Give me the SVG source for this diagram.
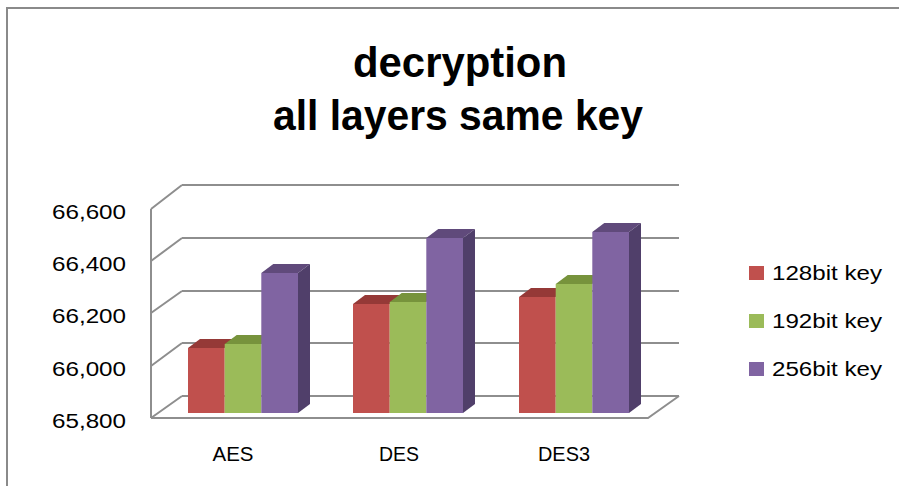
<svg xmlns="http://www.w3.org/2000/svg" width="899" height="486" viewBox="0 0 899 486">
  <style>
    .frame { fill: none; stroke: #8a8a8a; stroke-width: 2; }
    .grid { fill: none; stroke: #8e8e8e; stroke-width: 2; }
    .title { font-family: "Liberation Sans", Arial, sans-serif; font-weight: bold; font-size: 43px; fill: #000; text-anchor: middle; }
    .lbl { font-family: "Liberation Sans", Arial, sans-serif; font-size: 20px; fill: #000; }
    .ax { text-anchor: end; }
    .cat { text-anchor: middle; }
    .r-f { fill: #C0504D; } .r-t { fill: #953937; } .r-s { fill: #8A3533; }
    .g-f { fill: #9BBB59; } .g-t { fill: #77933C; } .g-s { fill: #6E8838; }
    .p-f { fill: #8064A2; } .p-t { fill: #604A7B; } .p-s { fill: #503F6A; }
  </style>

  <!-- chart frame (top and left edges) -->
  <path class="frame" d="M7,486 V8 H899"/>

  <!-- title -->
  <g id="title">
    <text class="title" x="460" y="77" textLength="214" lengthAdjust="spacingAndGlyphs">decryption</text>
    <text class="title" x="458" y="130" textLength="370" lengthAdjust="spacingAndGlyphs">all layers same key</text>
  </g>

  <!-- 3D walls: back gridlines, side wall and floor -->
  <g id="walls">
    <path class="grid" d="M182,185 H679 M182,238 H679 M182,291 H679 M182,343 H679 M182,396 H679"/>
    <path class="grid" d="M151,209 V418 M151,209 L182,185 M151,261 L182,238 M151,313 L182,291 M151,366 L182,343 M151,418 L182,396"/>
    <path class="grid" d="M151,418 H648 L679,396"/>
  </g>

  <!-- value axis -->
  <g id="value-axis">
    <text class="lbl ax" x="126" y="219" textLength="74" lengthAdjust="spacingAndGlyphs">66,600</text>
    <text class="lbl ax" x="126" y="271" textLength="74" lengthAdjust="spacingAndGlyphs">66,400</text>
    <text class="lbl ax" x="126" y="323" textLength="74" lengthAdjust="spacingAndGlyphs">66,200</text>
    <text class="lbl ax" x="126" y="376" textLength="74" lengthAdjust="spacingAndGlyphs">66,000</text>
    <text class="lbl ax" x="126" y="428" textLength="74" lengthAdjust="spacingAndGlyphs">65,800</text>
  </g>

  <!-- bars: front face, top face, side face (depth offset 12,-9; base y=413) -->
  <g id="bars-aes">
    <rect class="r-f" x="188" y="348" width="36.7" height="65"/>
    <path class="r-t" d="M188,348 L200,339 H236.7 L224.7,348 Z"/>
    <rect class="g-f" x="224.7" y="344" width="36.6" height="69"/>
    <path class="g-t" d="M224.7,344 L236.7,335 H273.3 L261.3,344 Z"/>
    <rect class="p-f" x="261.3" y="273" width="36.7" height="140"/>
    <path class="p-t" d="M261.3,273 L273.3,264 H310 L298,273 Z"/>
    <path class="p-s" d="M298,273 L310,264 V404 L298,413 Z"/>
  </g>
  <g id="bars-des">
    <rect class="r-f" x="353" y="304" width="36.7" height="109"/>
    <path class="r-t" d="M353,304 L365,295 H401.7 L389.7,304 Z"/>
    <rect class="g-f" x="389.7" y="302" width="36.6" height="111"/>
    <path class="g-t" d="M389.7,302 L401.7,293 H438.3 L426.3,302 Z"/>
    <rect class="p-f" x="426.3" y="238" width="36.7" height="175"/>
    <path class="p-t" d="M426.3,238 L438.3,229 H475 L463,238 Z"/>
    <path class="p-s" d="M463,238 L475,229 V404 L463,413 Z"/>
  </g>
  <g id="bars-des3">
    <rect class="r-f" x="519" y="297" width="36.7" height="116"/>
    <path class="r-t" d="M519,297 L531,288 H567.7 L555.7,297 Z"/>
    <rect class="g-f" x="555.7" y="284" width="36.6" height="129"/>
    <path class="g-t" d="M555.7,284 L567.7,275 H604.3 L592.3,284 Z"/>
    <rect class="p-f" x="592.3" y="232" width="36.7" height="181"/>
    <path class="p-t" d="M592.3,232 L604.3,223 H641 L629,232 Z"/>
    <path class="p-s" d="M629,232 L641,223 V404 L629,413 Z"/>
  </g>

  <!-- category axis -->
  <g id="category-axis">
    <text class="lbl cat" x="233" y="461" textLength="41" lengthAdjust="spacingAndGlyphs">AES</text>
    <text class="lbl cat" x="399" y="461" textLength="40" lengthAdjust="spacingAndGlyphs">DES</text>
    <text class="lbl cat" x="564" y="461" textLength="52" lengthAdjust="spacingAndGlyphs">DES3</text>
  </g>

  <!-- legend -->
  <g id="legend">
    <g id="legend-128">
      <rect class="r-f" x="749" y="266" width="15" height="14"/>
      <text class="lbl" x="772" y="280" textLength="110" lengthAdjust="spacingAndGlyphs">128bit key</text>
    </g>
    <g id="legend-192">
      <rect class="g-f" x="749" y="314" width="15" height="14"/>
      <text class="lbl" x="772" y="328" textLength="110" lengthAdjust="spacingAndGlyphs">192bit key</text>
    </g>
    <g id="legend-256">
      <rect class="p-f" x="749" y="362" width="15" height="14"/>
      <text class="lbl" x="772" y="376" textLength="110" lengthAdjust="spacingAndGlyphs">256bit key</text>
    </g>
  </g>
</svg>
